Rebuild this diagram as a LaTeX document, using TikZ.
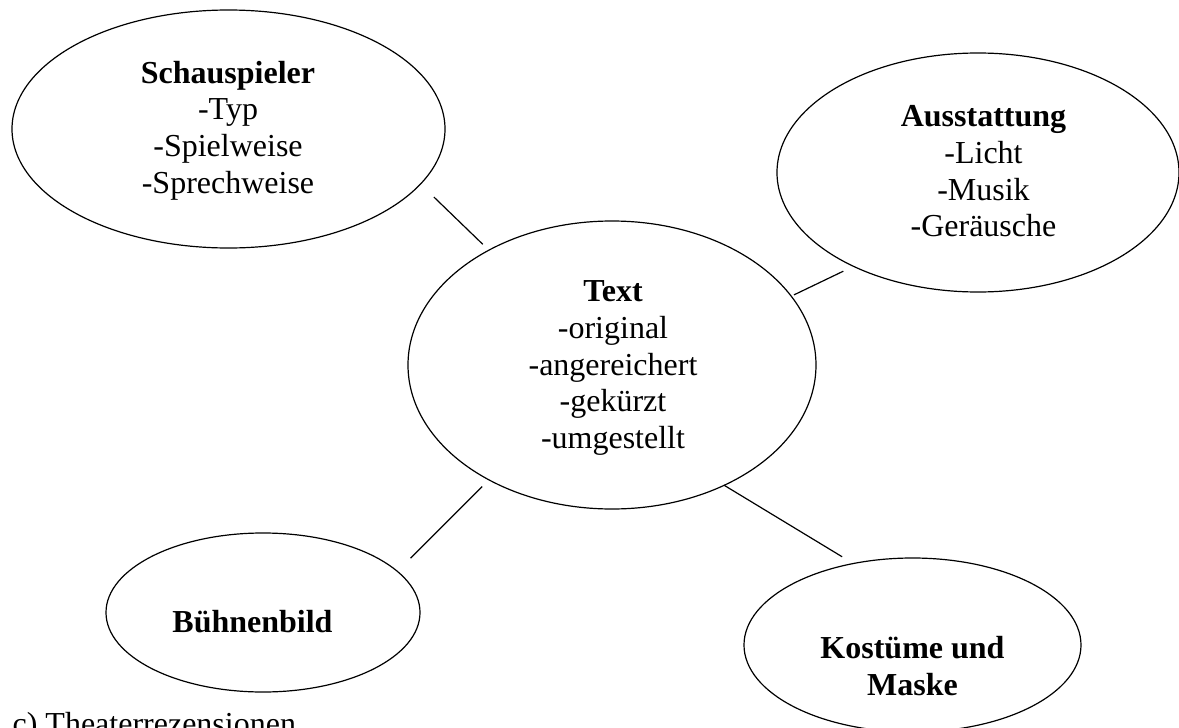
\documentclass[tikz,border=0pt]{standalone}
\usepackage{fontspec}
\setmainfont{Liberation Serif}
\usetikzlibrary{shapes.geometric}

\tikzset{every picture/.style={line width=0.9pt}}
\tikzset{
  bubble/.style={draw, ellipse, outer sep=0pt, inner sep=0pt},
  lbl/.style={align=center, font=\fontsize{24}{27.5}\selectfont},
  link/.style={draw}
}

\begin{document}
\begin{tikzpicture}[x=0.75pt,y=0.75pt,yscale=-1,xscale=1]
\useasboundingbox (0,0) rectangle (1179,728);

%Shape: Ellipse [id:sch]
\node [bubble, minimum width=324.75pt, minimum height=178.5pt] (sch) at (228.5,129) {};
%Shape: Ellipse [id:aus]
\node [bubble, minimum width=301.5pt, minimum height=179.25pt] (aus) at (978,172.5) {};
%Shape: Ellipse [id:txt]
\node [bubble, minimum width=306pt, minimum height=216pt] (txt) at (612,365) {};
%Shape: Ellipse [id:bue]
\node [bubble, minimum width=235.5pt, minimum height=119.25pt] (bue) at (263,612.5) {};
%Shape: Ellipse [id:kos]
\node [bubble, minimum width=252.75pt, minimum height=130.5pt] (kos) at (912.5,645) {};

%Straight Lines
\draw [shorten <=14pt, shorten >=6.4pt] (sch.-16.3) -- (txt.137.6) ;
%Straight Lines
\draw [shorten <=2.3pt, shorten >=8.5pt] (txt.21.7) -- (aus.-143.8) ;
%Straight Lines
\draw [shorten <=7.1pt, shorten >=14pt] (txt.-137.4) -- (bue.17.7) ;
%Straight Lines
\draw [shorten >=9.8pt] (txt.-47.5) -- (kos.126.6) ;

% Text Node
\node [lbl] (schT) at (228,130.5) {\textbf{Schauspieler}\\-Typ\\-Spielweise\\-Sprechweise};
% Text Node
\node [lbl] (ausT) at (983.5,171.5) {\textbf{Ausstattung}\\-Licht\\-Musik\\-Geräusche};
% Text Node
\node [lbl] (txtT) at (613,368) {\textbf{Text}\\-original\\-angereichert\\-gekürzt\\-umgestellt};
% Text Node
\node [lbl] (bueT) at (252.5,622) {\textbf{Bühnenbild}};
% Text Node
\node [lbl] (kosT) at (912.5,666) {\textbf{Kostüme und}\\\textbf{Maske}};
% Text Node
\node [lbl, anchor=base west, inner sep=0pt] (capT) at (12,734) {c) Theaterrezensionen};

\end{tikzpicture}
\end{document}
